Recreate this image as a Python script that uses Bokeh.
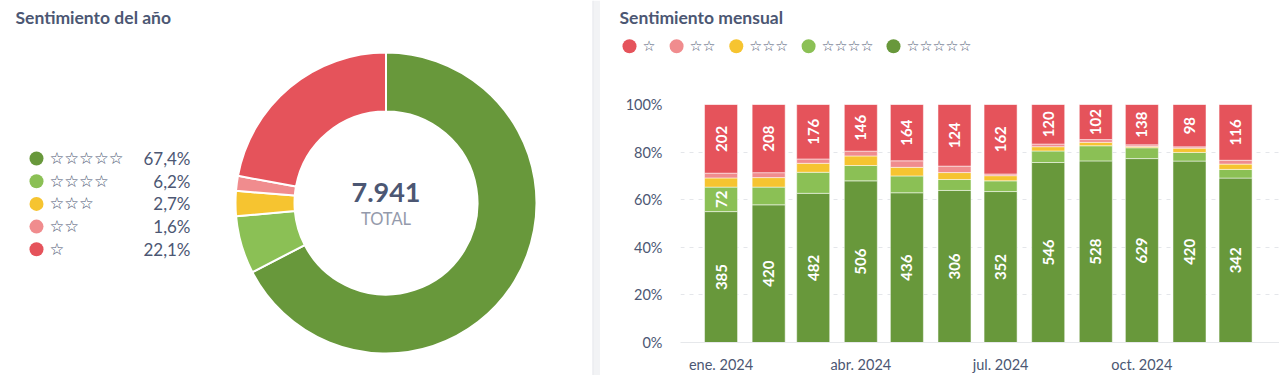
import math
import pandas as pd
from bokeh.plotting import figure
from bokeh.layouts import row, column
from bokeh.models import Range1d, ColumnDataSource, FixedTicker, NumeralTickFormatter
from bokeh.core.properties import value
from bokeh.embed import file_html
from bokeh.resources import INLINE

# ---------------- data ----------------
months = ["2024-01-01", "2024-02-01", "2024-03-01", "2024-04-01", "2024-05-01", "2024-06-01",
          "2024-07-01", "2024-08-01", "2024-09-01", "2024-10-01", "2024-11-01", "2024-12-01"]
tick_months = ["2024-01-01", "2024-04-01", "2024-07-01", "2024-10-01"]
tick_labels = ["ene. 2024", "abr. 2024", "jul. 2024", "oct. 2024"]
categories = ["☆", "☆☆", "☆☆☆", "☆☆☆☆", "☆☆☆☆☆"]
star1 = [202, 208, 176, 146, 164, 124, 162, 120, 102, 138, 98, 116]
star2 = [14, 15, 14, 15, 19, 13, 4, 8, 8, 6, 3, 8]
star3 = [27, 29, 29, 30, 25, 14, 12, 13, 10, 4, 10, 11]
star4 = [72, 54, 68, 48, 49, 22, 25, 35, 44, 37, 20, 18]
star5 = [385, 420, 482, 506, 436, 306, 352, 546, 528, 629, 420, 342]
colors = ["#e5535b", "#f08c8e", "#f6c430", "#8bc055", "#68983b"]
title_left = "Sentimiento del año"
title_right = "Sentimiento mensual"
total_label = "TOTAL"

series = [star1, star2, star3, star4, star5]
TEXT = "#4c5773"
MUTED = "#949aab"
FONT = value("Lato")
STARFONT = value("DejaVu Sans")


def blank(w, h):
    f = figure(width=w, height=h, x_range=Range1d(0, w), y_range=Range1d(0, h),
               x_axis_location=None, y_axis_location=None, toolbar_location=None,
               output_backend="svg", min_border=0, outline_line_color=None,
               frame_align=False)
    f.grid.visible = False
    return f


# ---------------- left: donut ----------------
LW, H = 600, 375
left = blank(LW, H)

# divider strip between the two cards
left.quad(left=[LW - 8], right=[LW], bottom=[0], top=[H], color="#f2f3f5", line_color=None)
left.quad(left=[LW - 8], right=[LW - 7], bottom=[0], top=[H], color="#e8eaed", line_color=None)

totals = [sum(s) for s in series]
grand = sum(totals)
order = [4, 3, 2, 1, 0]  # clockwise from top: 5 stars first
starts, ends, cols = [], [], []
acc = 0.0
for i in order:
    frac = totals[i] / grand
    starts.append(math.pi / 2 - acc * 2 * math.pi)
    acc += frac
    ends.append(math.pi / 2 - acc * 2 * math.pi)
    cols.append(colors[i])
cx, cy = 385.5, H - 202.5
left.annular_wedge(x=cx, y=cy, inner_radius=91.5, outer_radius=150.5,
                   start_angle=starts, end_angle=ends, direction="clock",
                   fill_color=cols, line_color="white", line_width=2)

total_txt = f"{grand:,}".replace(",", ".")
left.text(x=[cx], y=[H - 191.5], text=[total_txt], text_font=FONT, text_font_size="27px",
          text_font_style="bold", text_color=TEXT, text_align="center", text_baseline="middle")
left.text(x=[cx], y=[H - 218.5], text=[total_label], text_font=FONT, text_font_size="16.5px",
          text_color=MUTED, text_align="center", text_baseline="middle")

left.text(x=[15], y=[H - 17.3], text=[title_left], text_font=FONT, text_font_size="17.5px",
          text_font_style="bold", text_color=TEXT, text_align="left", text_baseline="middle")

# legend
ly = [H - (158 + 22.7 * k) for k in range(5)]
lcols = [colors[i] for i in order]
lstars = [categories[i] for i in order]
lpct = [f"{totals[i] / grand * 100:.1f}%".replace(".", ",") for i in order]
left.scatter(x=[36] * 5, y=ly, size=14, color=lcols, line_color=None)
left.text(x=[49] * 5, y=ly, text=lstars, text_font=STARFONT, text_font_size="16.5px",
          text_font_style="bold", text_color=TEXT, text_align="left", text_baseline="middle")
left.text(x=[190] * 5, y=ly, text=lpct, text_font=FONT, text_font_size="17px",
          text_color=TEXT, text_align="right", text_baseline="middle")

# ---------------- right header ----------------
RW, HH = 679, 88
head = blank(RW, HH)
head.text(x=[19], y=[HH - 17.3], text=[title_right], text_font=FONT, text_font_size="17.5px",
          text_font_style="bold", text_color=TEXT, text_align="left", text_baseline="middle")
lx = []
x0 = 29.0
for c in categories:
    lx.append(x0)
    x0 += 34.5 + 12.6 * len(c)
head.scatter(x=lx, y=[HH - 45.7] * 5, size=14, color=colors, line_color=None)
head.text(x=[x + 13 for x in lx], y=[HH - 45.7] * 5, text=categories, text_font=STARFONT,
          text_font_size="14.5px", text_color=TEXT, text_align="left", text_baseline="middle")

# ---------------- right bars ----------------
dates = pd.to_datetime(months)
day = 24 * 3600 * 1000
x_start = dates[0] - pd.Timedelta(days=26.4)
x_end = dates[0] + pd.Timedelta(days=363.6)
bars = figure(width=RW, height=H - HH, x_axis_type="datetime",
              x_range=Range1d(x_start, x_end), y_range=Range1d(0, 1),
              toolbar_location=None, output_backend="svg", frame_align=False,
              min_border_left=80, min_border_right=0, min_border_top=16, min_border_bottom=33,
              outline_line_color=None)

month_tot = [sum(s[m] for s in series) for m in range(12)]
bottom = [0.0] * 12
seg = []
for k in [4, 3, 2, 1, 0]:
    fr = [series[k][m] / month_tot[m] for m in range(12)]
    top = [bottom[m] + fr[m] for m in range(12)]
    src = ColumnDataSource(dict(x=dates, bottom=bottom, top=top))
    bars.vbar(x="x", bottom="bottom", top="top", width=21.5 * day, source=src,
              fill_color=colors[k], line_color="white", line_alpha=0.5, line_width=1)
    seg.append((k, list(bottom), top, fr))
    bottom = top

lab_x, lab_y, lab_t = [], [], []
for k, b, t, fr in seg:
    for m in range(12):
        if fr[m] > 0.095:
            lab_x.append(dates[m])
            lab_y.append((b[m] + t[m]) / 2)
            lab_t.append(str(series[k][m]))
bars.text(x=lab_x, y=lab_y, text=lab_t, angle=math.pi / 2, text_font=FONT,
          text_font_size="15px", text_font_style="bold", text_color="white",
          text_align="center", text_baseline="middle")

bars.xgrid.grid_line_color = None
bars.ygrid.grid_line_color = "#e4e6ea"
bars.ygrid.grid_line_dash = "4 5"
bars.ygrid.ticker = FixedTicker(ticks=[0.2, 0.4, 0.6, 0.8, 1.0])
bars.yaxis.ticker = FixedTicker(ticks=[0, 0.2, 0.4, 0.6, 0.8, 1.0])
bars.yaxis.formatter = NumeralTickFormatter(format="0%")
bars.yaxis.axis_line_color = None
bars.yaxis.major_tick_line_color = None
bars.yaxis.minor_tick_line_color = None
bars.yaxis.major_label_standoff = 12
bars.yaxis.major_label_text_font = "Lato"
bars.yaxis.major_label_text_font_size = "14.5px"
bars.yaxis.major_label_text_color = TEXT

tick_ms = [int(pd.Timestamp(t).value // 10**6) for t in tick_months]
bars.xaxis.ticker = FixedTicker(ticks=tick_ms)
bars.xaxis.major_label_overrides = {t: l for t, l in zip(tick_ms, tick_labels)}
bars.xaxis.axis_line_color = "#e6e8eb"
bars.xaxis.axis_line_width = 1
bars.xaxis.major_tick_line_color = None
bars.xaxis.minor_tick_line_color = None
bars.xaxis.major_label_standoff = 7
bars.xaxis.major_label_text_font = "Lato"
bars.xaxis.major_label_text_font_size = "14.5px"
bars.xaxis.major_label_text_color = TEXT

layout = row(left, column(head, bars))
open("out.html", "w").write(file_html(layout, INLINE))
